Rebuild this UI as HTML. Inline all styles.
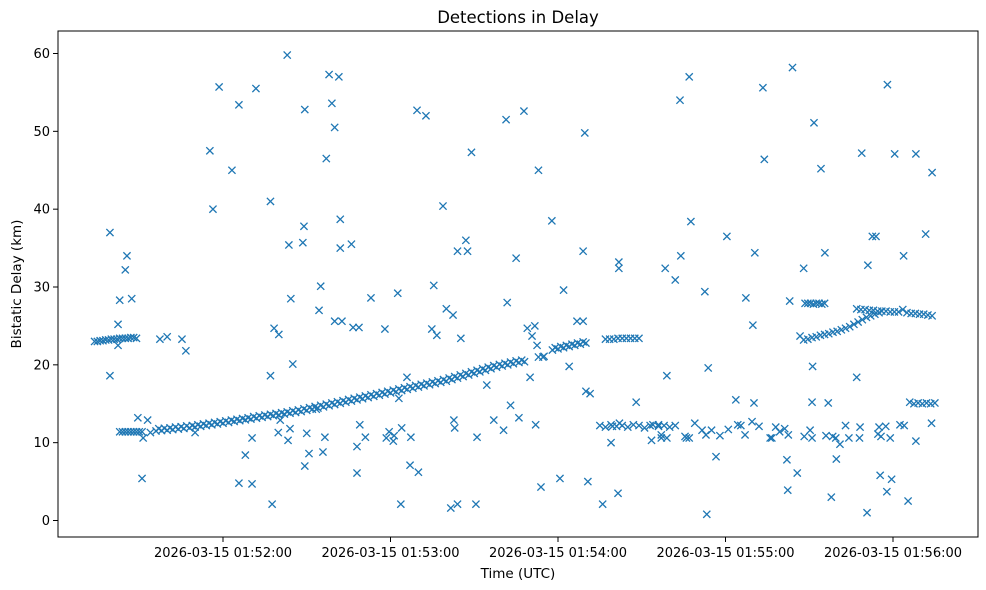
<!DOCTYPE html>
<html><head><meta charset="utf-8"><style>
html,body{margin:0;padding:0;background:#fff;}
svg{display:block;font-family:"DejaVu Sans","Liberation Sans",sans-serif;}
</style></head><body>
<svg id="chart" width="986" height="590" viewBox="0 0 986 590">
<rect x="0" y="0" width="986" height="590" fill="#fff"/>
<text x="518" y="23" font-size="16.5" text-anchor="middle" fill="#000">Detections in Delay</text>
<g id="marks"></g>
<g id="axes"></g>
<rect x="58" y="31" width="920" height="506" fill="none" stroke="#000" stroke-width="1"/>
<text x="518" y="578" font-size="13.5" text-anchor="middle" fill="#000">Time (UTC)</text>
<text x="0" y="0" font-size="13.5" text-anchor="middle" fill="#000" transform="translate(21,284) rotate(-90)">Bistatic Delay (km)</text>
</svg>
<script>
// seconds after 01:51:00
const xTickSecs = [60, 120, 180, 240, 300];
const xTickLabels = ["2026-03-15 01:52:00","2026-03-15 01:53:00","2026-03-15 01:54:00","2026-03-15 01:55:00","2026-03-15 01:56:00"];
const yTicks = [0, 10, 20, 30, 40, 50, 60];

const trackT = [36,38,40,42,44,46,48,50,52,54,56,58,60,62,64,66,68,70,72,74,76,78,80,82,84,86,88,90,92,94,96,98,100,102,104,106,108,110,112,114,116,118,120,122,124,126,128,130,132,134,136,138,140,142,144,146,148,150,152,154,156,158,160,162,164,166,168,173,175,178,180,182,184,186,188,190];
const trackV = [11.5,11.55,11.6,11.68,11.75,11.82,11.9,12.0,12.1,12.2,12.3,12.4,12.5,12.6,12.72,12.83,12.93,13.04,13.15,13.25,13.36,13.47,13.57,13.68,13.78,13.89,14.0,14.15,14.3,14.45,14.6,14.75,14.9,15.05,15.2,15.35,15.5,15.65,15.8,15.95,16.1,16.25,16.4,16.55,16.7,16.85,17.0,17.15,17.3,17.45,17.6,17.75,17.9,18.1,18.3,18.5,18.7,18.9,19.1,19.3,19.5,19.7,19.85,20.0,20.15,20.3,20.4,21.0,21.1,21.9,22.05,22.2,22.35,22.5,22.65,22.8];

const track2T = [37,39,41,43,45,47,49,51,53,55,57,59,61,63,65,67,69,71,73,75,77,79,81,83,85,87,89,91,93,95,97,99,101,103,105,107,109,111,113,115,117,119,121,123,125,127,129,131,133,135,137,139,141,143,145,147,149,151,153,155,157,159,161,163,165,167,179,181,183,185,187,189];
const track2V = [11.8,11.85,11.9,12.0,12.05,12.15,12.2,12.3,12.4,12.5,12.6,12.7,12.8,12.9,13.0,13.1,13.2,13.35,13.45,13.55,13.65,13.75,13.85,13.95,14.1,14.2,14.35,14.5,14.65,14.8,14.95,15.1,15.25,15.4,15.55,15.7,15.85,16.0,16.15,16.3,16.45,16.6,16.75,16.9,17.05,17.2,17.35,17.5,17.65,17.8,17.95,18.1,18.3,18.5,18.7,18.9,19.1,19.3,19.5,19.7,19.9,20.05,20.2,20.35,20.5,20.6,22.2,22.35,22.5,22.65,22.8,22.95];

const band23T = [14,15,16,17,18,19,20,21,22,23,24,25,26,27,28,29];
const band23V = [23.0,23.0,23.1,23.1,23.2,23.2,23.3,23.3,23.3,23.4,23.4,23.4,23.4,23.5,23.5,23.4];

const band11T = [23,24,25,26,27,28,29,30,31];
const band11V = [11.4,11.4,11.4,11.4,11.4,11.4,11.4,11.4,11.4];

const band233T = [197,198.5,200,201.5,203,204.5,206,207.5,209];
const band233V = [23.3,23.3,23.3,23.4,23.4,23.4,23.4,23.4,23.4];

const lowT = [195,197,199,201,203,205,207,209,211,213,214,216,218,220,222,217,219,226,227];
const lowV = [12.2,12.0,12.3,12.1,12.2,12.0,12.3,12.2,11.9,12.2,12.3,12.1,12.2,12.0,12.2,10.6,10.6,10.6,10.6];

const risingT = [268,269.5,271,272.5,274,275.5,277,278.5,280,281.5,283,284.5,286,287.5,289,290.5,292,293.5,295];
const risingV = [23.2,23.3,23.5,23.6,23.8,23.9,24.0,24.2,24.3,24.5,24.7,24.9,25.2,25.5,25.8,26.1,26.3,26.5,26.7];

const upperT = [268.5,269.5,270.5,271.5,272.5,273.5,274.5,275.5];
const upperV = [27.9,27.9,27.9,27.8,27.9,27.9,27.8,27.9];

const flatT = [287,288.5,290,291.5,293,294.5,296,297.5,299,300.5,302,303.5,305,306.5,308,309.5,311,312.5,314];
const flatV = [27.2,27.1,27.1,27.0,27.0,26.9,26.9,26.9,26.8,26.8,26.8,27.1,26.7,26.6,26.6,26.5,26.5,26.4,26.3];

const band15T = [306,307.5,309,310.5,312,313.5,315];
const band15V = [15.2,15.0,15.1,15.0,15.1,15.0,15.1];

const scatterT = [19.5,19.5,22.4,23,25,25.6,27.3,22.4,29.5,31,33,31.4,37.4,40,34,45.3,46.7,50,55.3,56.4,58.6,63.2,65.7,65.7,68,70.4,70.4,71.8,77,77,77.6,78.3,80,83,83.6,84.3,85,80.5,79.8,83.3,84,88.6,89,89.3,89.3,90.8,90,93.4,94.4,95,95.8,96.5,98,99,100,100,101.5,102,102,102.6,106,97,106.6,108.7,108,108,109,111,113,118,118.5,119.5,121,121.3,122.6,123.7,123,124,125.9,127,127.3,129.5,130,132.7,134.8,135.5,136.6,138.8,140,142.4,141.6,142.7,143,144,144,145.2,147,147.6,149,150.6,151,154.5,157,160.5,161.4,161.8,163,165,166,167.8,169,170,170.7,171.7,172.5,173,173.9,174.6,172,177.8,180.7,182,184,186.8,189,189.6,190,191.5,189,190.7,196,199,201.5,201.8,201.8,202,199.5,208,213.5,216,217,218.4,219,222,223.7,225.5,227,227.6,231.6,232.6,233.3,233.8,235,236.6,240.5,243.7,244.4,245.5,247.3,249.5,249.8,250.2,250.5,253.4,253.9,256.6,259.4,261.2,262,262.3,263,264,265.7,266.7,268,268.2,270.3,271,271,271.2,271.7,274.2,275.6,276.8,277.9,278.4,279.5,279.7,281,284.2,287,288.2,288.8,291,292.6,290.7,293.9,294.6,295,295.4,295.7,297.4,297.8,298,299.5,300.6,302.5,303.8,305.4,308.2,308.2,314,311.7,313.8,224,229,233,238,241,247,252,256,258,262.5,276,283,288,299,304];
const scatterV = [37.0,18.6,25.2,28.3,32.2,34,28.5,22.5,13.2,5.4,12.9,10.6,23.3,23.6,11.3,23.3,21.8,11.3,47.5,40,55.7,45,53.4,4.8,8.4,4.7,10.6,55.5,41,18.6,2.1,24.7,23.9,59.8,35.4,28.5,20.1,12.9,11.3,10.3,11.8,35.7,37.8,52.8,7.0,8.6,11.2,14.3,27,30.1,8.8,10.7,57.3,53.6,50.5,25.6,57,38.7,35,25.6,35.5,46.5,24.8,24.8,9.5,6.1,12.3,10.7,28.6,24.6,10.6,11.4,10.2,10.9,29.2,2.1,15.7,11.9,18.4,7.1,10.7,52.7,6.2,52,24.6,30.2,23.8,40.4,27.2,26.4,1.6,12.9,11.9,2.1,34.6,23.4,36,34.6,47.3,2.1,10.7,17.4,12.9,11.6,51.5,28,14.8,33.7,13.2,52.6,24.7,18.4,23.7,25,22.5,45,4.3,21,12.3,38.5,5.4,29.6,19.8,25.6,25.6,49.8,16.6,16.3,34.6,5.0,2.1,10,3.5,33.2,32.4,12.5,12.1,15.2,10.3,12.3,11,32.4,18.6,30.9,54,10.8,57,38.4,11.6,29.4,0.8,19.6,11.6,8.2,36.5,15.5,12.3,12.2,28.6,12.7,25.1,15.1,34.4,55.6,46.4,10.6,11.4,11.8,7.8,3.9,28.2,58.2,6.1,23.7,32.4,10.8,11.6,15.2,10.6,19.8,51.1,45.2,34.4,15.1,3.0,10.8,10.6,7.9,9.8,10.6,18.4,12.0,47.2,32.8,36.5,1.0,36.5,11.1,12,5.8,10.8,12.1,3.7,56,5.3,47.1,12.3,34,2.5,10.2,47.1,44.7,36.8,12.5,34,12.5,11.0,10.9,11.7,11.0,12.1,10.6,12.0,11.0,10.9,12.2,10.6,10.6,12.2,12.2,12.8];

const series = [[trackT,trackV],[track2T,track2V],[band23T,band23V],[band11T,band11V],[band233T,band233V],[lowT,lowV],[risingT,risingV],[upperT,upperV],[flatT,flatV],[band15T,band15V],[scatterT,scatterV]];

const PX0 = 58, PX1 = 978, PY0 = 31, PY1 = 537;
function xScale(s){ return 223 + (s - 60) * (893 - 223) / 240; }
function yScale(v){ return 520.5 - v * (520.5 - 53.5) / 60; }

const NS = "http://www.w3.org/2000/svg";
const marks = document.getElementById("marks");
const axes = document.getElementById("axes");
const C = "#1f77b4", R = 3.6;

series.forEach(function(pair){
  const ts = pair[0], vs = pair[1];
  for (let i = 0; i < ts.length; i++) {
    const cx = xScale(ts[i]), cy = yScale(vs[i]);
    const p = document.createElementNS(NS, "path");
    p.setAttribute("d", "M" + (cx - R) + " " + (cy - R) + "L" + (cx + R) + " " + (cy + R) + "M" + (cx - R) + " " + (cy + R) + "L" + (cx + R) + " " + (cy - R));
    p.setAttribute("stroke", C);
    p.setAttribute("stroke-width", "1.3");
    p.setAttribute("fill", "none");
    
    
    marks.appendChild(p);
  }
});

yTicks.forEach(function(v){
  const y = yScale(v);
  const l = document.createElementNS(NS, "line");
  l.setAttribute("x1", PX0 - 5); l.setAttribute("x2", PX0);
  l.setAttribute("y1", y); l.setAttribute("y2", y);
  l.setAttribute("stroke", "#000");
  
  
  axes.appendChild(l);
  const t = document.createElementNS(NS, "text");
  t.setAttribute("x", PX0 - 8); t.setAttribute("y", y + 4.5);
  t.setAttribute("font-size", "13"); t.setAttribute("text-anchor", "end");
  t.textContent = String(v);
  
  
  axes.appendChild(t);
});

xTickSecs.forEach(function(s, i){
  const x = xScale(s);
  const l = document.createElementNS(NS, "line");
  l.setAttribute("x1", x); l.setAttribute("x2", x);
  l.setAttribute("y1", PY1); l.setAttribute("y2", PY1 + 5);
  l.setAttribute("stroke", "#000");
  
  
  axes.appendChild(l);
  const t = document.createElementNS(NS, "text");
  t.setAttribute("x", x); t.setAttribute("y", PY1 + 20);
  t.setAttribute("font-size", "13"); t.setAttribute("text-anchor", "middle");
  t.textContent = xTickLabels[i];
  
  
  axes.appendChild(t);
});
</script>
</body></html>
